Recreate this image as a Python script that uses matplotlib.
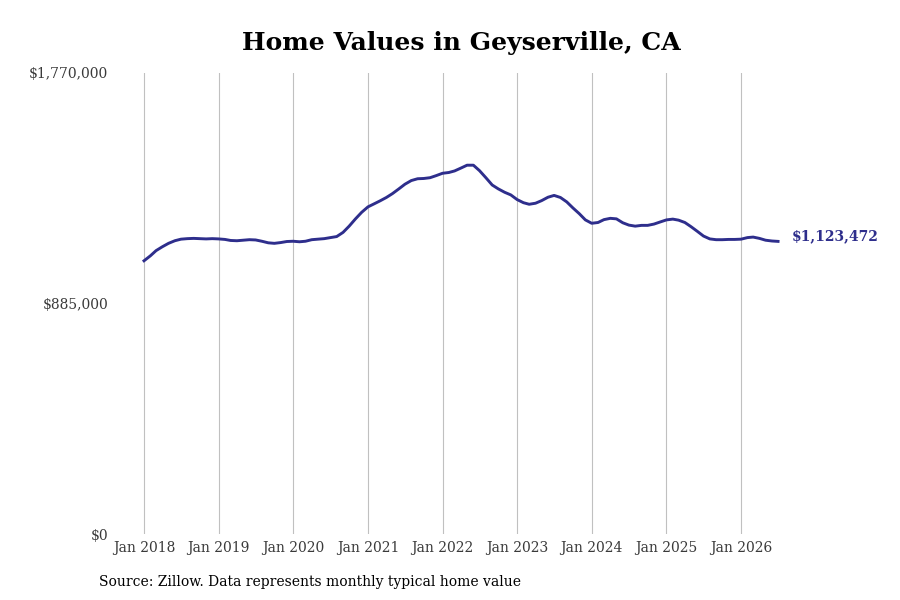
import matplotlib.pyplot as plt
import pandas as pd

# Monthly typical home value, Jan 2018 onward
values = [
    1049000, 1068000, 1088000, 1103000, 1116000, 1126000, 1132000, 1134000,
    1135000, 1134000, 1133000, 1134000,
    1133000, 1131000, 1127000, 1126000, 1128000, 1130000, 1129000, 1124000,
    1118000, 1116000, 1119000, 1123000,
    1124000, 1122000, 1124000, 1130000, 1132000, 1134000, 1138000, 1142000,
    1158000, 1182000, 1210000, 1235000,
    1256000, 1268000, 1279000, 1292000, 1307000, 1325000, 1343000, 1357000,
    1364000, 1365000, 1368000, 1376000,
    1385000, 1388000, 1394000, 1405000, 1416000, 1416000, 1395000, 1368000,
    1340000, 1325000, 1312000, 1302000,
    1284000, 1272000, 1266000, 1270000, 1280000, 1293000, 1300000, 1292000,
    1275000, 1252000, 1230000, 1206000,
    1193000, 1196000, 1207000, 1212000, 1210000, 1195000, 1186000, 1182000,
    1185000, 1185000, 1190000, 1198000,
    1206000, 1209000, 1205000, 1196000, 1180000, 1162000, 1144000, 1133000,
    1130000, 1130000, 1131000, 1131000,
    1132000, 1138000, 1140000, 1135000, 1128000, 1125000, 1123472,
]
dates = pd.date_range("2018-01-01", periods=len(values), freq="MS")

tick_dates = pd.date_range("2018-01-01", "2026-01-01", freq="YS")
tick_labels = [d.strftime("Jan %Y") for d in tick_dates]
y_ticks = [0, 885000, 1770000]
y_labels = ["$0", "$885,000", "$1,770,000"]

line_color = "#2e2e8c"

plt.rcParams["font.family"] = "DejaVu Serif"

fig = plt.figure(figsize=(9, 6), dpi=100)
ax = fig.add_axes([115 / 900, 66 / 600, 670 / 900, 461 / 600])

ax.plot(dates, values, color=line_color, linewidth=2.1)

ax.set_ylim(0, 1770000)
ax.set_xlim(dates[0] - pd.Timedelta(days=142), dates[-1] + pd.Timedelta(days=34))
ax.set_xticks(tick_dates)
ax.set_xticklabels(tick_labels, fontsize=10, color="#3a3a3a")
ax.set_yticks(y_ticks)
ax.set_yticklabels(y_labels, fontsize=10, color="#3a3a3a")
ax.tick_params(axis="both", length=0)
ax.tick_params(axis="x", pad=5)
ax.tick_params(axis="y", pad=5)

ax.grid(axis="x", color="#c0c0c0", linewidth=0.8)
ax.grid(axis="y", visible=False)
for s in ax.spines.values():
    s.set_visible(False)

ax.annotate("${:,.0f}".format(values[-1]), xy=(dates[-1], values[-1]),
            xytext=(10, 4), textcoords="offset points", va="center", ha="left",
            fontsize=10, fontweight="bold", color=line_color)

fig.text(461 / 900, 1 - 43 / 600, "Home Values in Geyserville, CA",
         ha="center", va="center", fontsize=18, fontweight="bold")
fig.text(99 / 900, 1 - 582 / 600,
         "Source: Zillow. Data represents monthly typical home value",
         ha="left", va="center", fontsize=10)

fig.savefig("out.png", dpi=100)
